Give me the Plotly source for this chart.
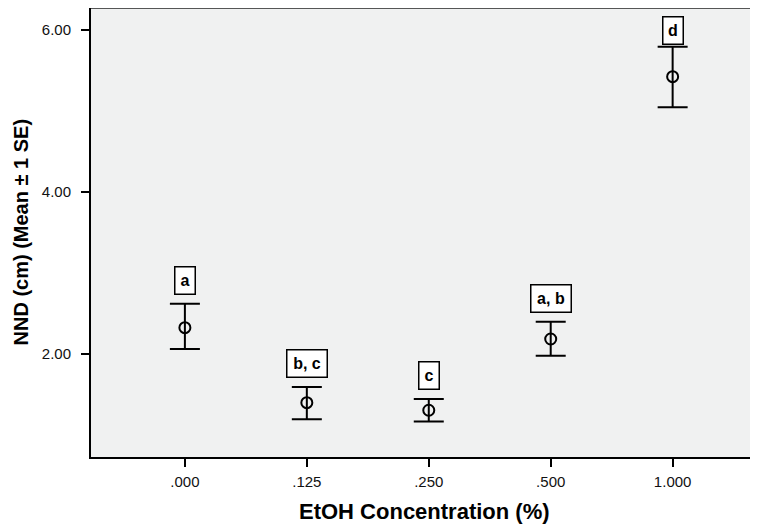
import plotly.graph_objects as go

concentrations = [".000", ".125", ".250", ".500", "1.000"]
nnd_mean = [2.325, 1.399, 1.305, 2.185, 5.424]
nnd_upper = [2.62, 1.593, 1.444, 2.399, 5.794]
nnd_lower = [2.06, 1.194, 1.165, 1.979, 5.046]
group_labels = ["a", "b, c", "c", "a, b", "d"]
y_ticks = [2, 4, 6]

FONT = "Arial, Liberation Sans, Helvetica, sans-serif"
# the page body has an 8px margin, so the figure is offset by 8px in the window
W, H = 750, 520
M_L, M_R, M_T, M_B = 83, 0, 0, 71
Y_RANGE = [0.728, 6.272]
plot_w = W - M_L - M_R
plot_h = H - M_T - M_B
px_per_unit = plot_h / (Y_RANGE[1] - Y_RANGE[0])

err_plus = [u - m for u, m in zip(nnd_upper, nnd_mean)]
err_minus = [m - l for m, l in zip(nnd_mean, nnd_lower)]
idx = list(range(len(concentrations)))

fig = go.Figure()
fig.add_trace(go.Scatter(
    x=idx, y=nnd_mean, mode="markers",
    marker=dict(symbol="circle-open", size=11, color="black", line=dict(width=2, color="black")),
    error_y=dict(type="data", symmetric=False, array=err_plus, arrayminus=err_minus,
                 color="black", thickness=2, width=15),
    showlegend=False, cliponaxis=False,
))

box_h = 29
for i, lab, up in zip(idx, group_labels, nnd_upper):
    cap_px = (Y_RANGE[1] - up) * px_per_unit  # distance from plot top in px
    gap = 9
    bottom_px = cap_px - gap
    if bottom_px - box_h < 8:
        bottom_px = 8 + box_h
    shift = cap_px - bottom_px
    fig.add_annotation(
        x=i, y=up, xref="x", yref="y", text="<b>%s</b>" % lab, showarrow=False,
        yanchor="bottom", yshift=shift,
        font=dict(family=FONT, size=16, color="black"),
        bgcolor="white", bordercolor="black", borderwidth=1.5, borderpad=3,
        height=20, width=13 if len(lab) == 1 else 33,
    )

# axis titles
fig.add_annotation(
    xref="paper", yref="paper", x=0.5, y=(plot_h - 503) / plot_h,
    text="<b>EtOH Concentration (%)</b>", showarrow=False,
    xanchor="center", yanchor="middle", font=dict(family=FONT, size=22, color="black"),
)
fig.add_annotation(
    xref="paper", yref="paper", x=(12 - M_L) / plot_w, y=0.5,
    text="<b>NND (cm) (Mean ± 1 SE)</b>", showarrow=False, textangle=-90,
    xanchor="center", yanchor="middle", font=dict(family=FONT, size=20, color="black"),
)

fig.add_shape(type="line", xref="paper", yref="paper", x0=0, x1=1, y0=1, y1=1,
              line=dict(color="#222222", width=1.5))

fig.update_layout(
    width=W, height=H,
    margin=dict(l=M_L, r=M_R, t=M_T, b=M_B, autoexpand=False),
    paper_bgcolor="white", plot_bgcolor="#f0f1f1",
    font=dict(family=FONT, color="black"),
    xaxis=dict(
        range=[-0.77, 4.70], tickvals=idx, ticktext=concentrations,
        showgrid=False, zeroline=False, automargin=False,
        showline=True, linecolor="black", linewidth=2,
        ticks="outside", ticklen=8, tickwidth=2, tickcolor="black",
        tickfont=dict(size=15, family=FONT, color="#111111"), ticklabelstandoff=2,
    ),
    yaxis=dict(
        range=Y_RANGE, tickvals=y_ticks, tickformat=".2f", showgrid=False, zeroline=False,
        automargin=False,
        showline=True, linecolor="black", linewidth=2,
        ticks="outside", ticklen=8, tickwidth=2, tickcolor="black",
        tickfont=dict(size=15, family=FONT, color="#111111"), ticklabelstandoff=7,
    ),
)

fig.write_html("out.html")
